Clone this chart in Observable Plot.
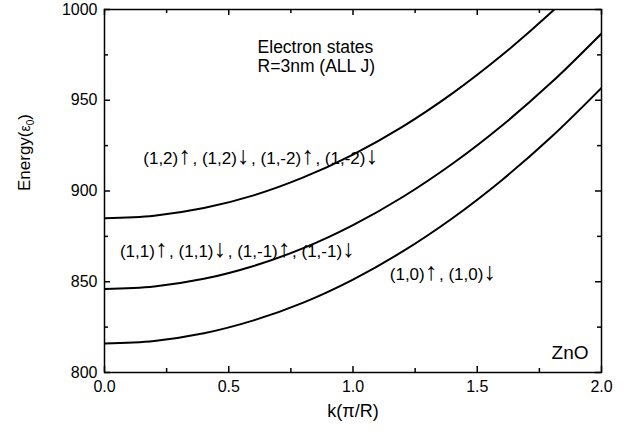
<!DOCTYPE html>
<html><head><meta charset="utf-8">
<script src="https://cdn.jsdelivr.net/npm/d3@7"></script>
<script src="https://cdn.jsdelivr.net/npm/@observablehq/plot@0.6"></script>
<style>html,body{margin:0;padding:0;overflow:hidden;background:#fff}</style>
</head><body><div id="chart"></div>
<script>
// wave vector k (π/R)
const kValues = [0, 0.2, 0.4, 0.6, 0.8, 1.0, 1.2, 1.4, 1.6, 1.8, 2.0];
// energies (ε0) of the three electron subbands
const state10 = [816, 817.4, 821.6, 828.7, 838.5, 851.2, 866.7, 885.0, 906.1, 930.0, 956.8];
const state11 = [846, 847.4, 851.6, 858.7, 868.5, 881.2, 896.7, 915.0, 936.1, 960.0, 986.8];
const state12 = [885, 886.4, 890.6, 897.6, 907.5, 920.1, 935.5, 953.8, 974.9, 998.7, 1025.4];
const seriesNames = ["(1,0)", "(1,±1)", "(1,±2)"];

const kTicks = [0, 0.5, 1, 1.5, 2];
const kMinor = [0.25, 0.75, 1.25, 1.75];
const eTicks = [800, 850, 900, 950, 1000];
const eMinor = [825, 875, 925, 975];

// state annotations: text, k, energy (baseline)
const noteText = [
  "(1,2)↑ , (1,2)↓ , (1,-2)↑ , (1,-2)↓",
  "(1,1)↑ , (1,1)↓ , (1,-1)↑ , (1,-1)↓",
  "(1,0)↑ , (1,0)↓"];
const noteK = [0.156, 0.062, 1.148];
const noteE = [915, 863.9, 850.7];
const titleText = "Electron states\nR=3nm (ALL J)";
const materialText = "ZnO";

const rows = [];
[state10, state11, state12].forEach((arr, s) =>
  arr.forEach((e, i) => rows.push({k: kValues[i], e, s: seriesNames[s]})));
const notes = noteText.map((t, i) => ({t, k: noteK[i], e: noteE[i]}));

const W = 640, H = 434, mL = 104, mR = 39, mT = 9, mB = 62;
const fh = H - mT - mB, fw = W - mL - mR;

const plot = Plot.plot({
  width: W, height: H,
  marginLeft: mL, marginRight: mR, marginTop: mT, marginBottom: mB,
  style: {fontFamily: "'Liberation Sans', Arial, sans-serif", fontSize: "17px", background: "#fff", color: "#000"},
  x: {domain: [0, 2]},
  y: {domain: [800, 1000]},
  marks: [
    Plot.line(rows, {x: "k", y: "e", z: "s", stroke: "#000", strokeWidth: 2, curve: "catmull-rom", clip: true}),
    // inward ticks: bottom / top
    Plot.ruleX(kTicks, {x: d => d, stroke: "#000", strokeWidth: 1.5, insetTop: fh - 6}),
    Plot.ruleX(kMinor, {x: d => d, stroke: "#000", strokeWidth: 1.5, insetTop: fh - 4}),
    Plot.ruleX(kTicks, {x: d => d, stroke: "#000", strokeWidth: 1.5, insetBottom: fh - 6}),
    Plot.ruleX(kMinor, {x: d => d, stroke: "#000", strokeWidth: 1.5, insetBottom: fh - 4}),
    // inward ticks: left / right
    Plot.ruleY(eTicks, {y: d => d, stroke: "#000", strokeWidth: 1.5, insetRight: fw - 6}),
    Plot.ruleY(eMinor, {y: d => d, stroke: "#000", strokeWidth: 1.5, insetRight: fw - 4}),
    Plot.ruleY(eTicks, {y: d => d, stroke: "#000", strokeWidth: 1.5, insetLeft: fw - 6}),
    Plot.ruleY(eMinor, {y: d => d, stroke: "#000", strokeWidth: 1.5, insetLeft: fw - 4}),
    Plot.frame({stroke: "#000", strokeWidth: 1.5}),
    Plot.axisX({ticks: kTicks, tickSize: 0, tickPadding: 8, tickFormat: d3.format(".1f"), label: null, fill: "#000", fontSize: 16}),
    Plot.axisY({ticks: eTicks, tickSize: 0, tickPadding: 7, tickFormat: d => String(d), label: null, fill: "#000", fontSize: 16}),
    Plot.text(notes, {x: "k", y: "e", text: "t", textAnchor: "start", lineAnchor: "bottom", fill: "#000", fontSize: 17}),
    Plot.text([titleText], {x: [0.616], y: [965.8], text: d => d, textAnchor: "start", lineAnchor: "bottom", lineHeight: 1.05, fill: "#000", fontSize: 17.5}),
    Plot.text([materialText], {x: [1.948], y: [807.5], text: d => d, textAnchor: "end", lineAnchor: "bottom", fill: "#000", fontSize: 19}),
    Plot.text(["k(π/R)"], {frameAnchor: "bottom", dy: 44, fill: "#000", fontSize: 18}),
    Plot.text(["Energy(ε0)"], {frameAnchor: "left", dx: -80, rotate: -90, fill: "#000", fontSize: 17})
  ]
});
document.getElementById("chart").appendChild(plot);

// subscript in the y-axis title
d3.select(plot).selectAll("text").filter(function() { return this.textContent === "Energy(ε0)"; })
  .each(function() {
    const t = d3.select(this);
    const dyAttr = t.attr("dy");
    t.text(null);
    t.append("tspan").attr("dy", dyAttr).text("Energy(");
    t.append("tspan").attr("font-size", 14).text("ε");
    t.append("tspan").attr("font-size", 10).attr("dy", 4).text("0");
    t.append("tspan").attr("dy", -4).text(")");
    t.attr("dy", null);
  });

// spin arrows: taller, thin glyphs like the original figure
d3.select(plot).selectAll("text").filter(function() {
  return this.childElementCount === 0 && /[↑↓]/.test(this.textContent);
}).each(function() {
  const t = d3.select(this);
  const parts = this.textContent.split(/([↑↓])/).filter(s => s.length);
  t.text(null);
  parts.forEach(p => {
    const sp = t.append("tspan").text(p);
    if (p === "↑" || p === "↓") sp.attr("font-size", 25).attr("letter-spacing", -3);
  });
});
</script>
</body></html>
